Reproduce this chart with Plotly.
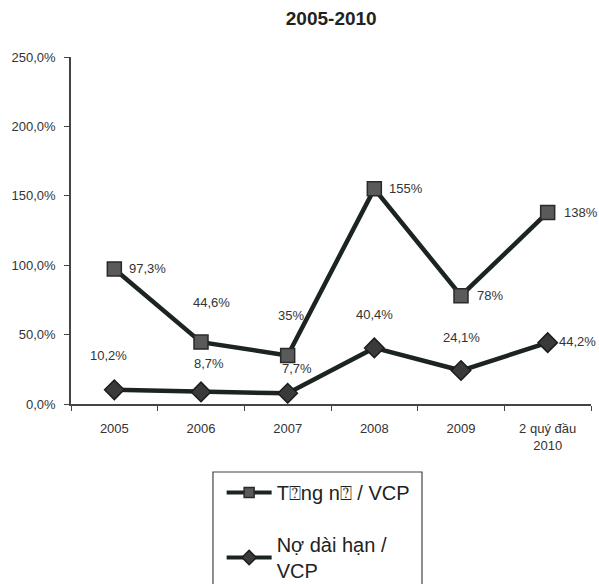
import plotly.graph_objects as go

# Debt ratios per year
years = ["2005", "2006", "2007", "2008", "2009", "2 quý đầu<br>2010"]
total_debt = [97.3, 44.6, 35, 155, 78, 138]          # Tổng nợ / VCP (%)
long_term_debt = [10.2, 8.7, 7.7, 40.4, 24.1, 44.2]   # Nợ dài hạn / VCP (%)
y_ticks = [0, 50, 100, 150, 200, 250]

name_total = "T\u2370ng n\u2370 / VCP"
name_long = "Nợ dài hạn /<br>VCP"

# Label offsets (pixels) relative to each marker: (xshift, yshift, xanchor)
total_label_pos = [(13, 0, "left"), (10, 40, "center"), (3, 40, "center"),
                   (13, 0, "left"), (14, 0, "left"), (14, 0, "left")]
long_label_pos = [(-6, 34, "center"), (8, 28, "center"), (9, 25, "center"),
                  (0, 33, "center"), (0, 33, "center"), (9, 1, "left")]

LINE = "#1c2420"
TEXT = "#333333"
FONT = "Liberation Sans, Arial, sans-serif"

SQUARE = dict(symbol="square", color="#5a5a5a", line=dict(color="#2a2a2a", width=1.5))
DIAMOND = dict(symbol="diamond", color="#3a3a3a", line=dict(color="#1c1c1c", width=1.5))


def fmt(v, digits=None):
    s = f"{v:.{digits}f}" if digits is not None else f"{v:g}"
    return s.replace(".", ",") + "%"


fig = go.Figure()
fig.add_trace(go.Scatter(
    x=years, y=total_debt, name=name_total, showlegend=False,
    mode="lines+markers", line=dict(color=LINE, width=4.5),
    marker=dict(size=14, **SQUARE),
))
fig.add_trace(go.Scatter(
    x=years, y=long_term_debt, name=name_long, showlegend=False,
    mode="lines+markers", line=dict(color=LINE, width=4.5),
    marker=dict(size=15, **DIAMOND),
))

# Legend entries with compact symbols
fig.add_trace(go.Scatter(
    x=[None], y=[None], name=name_total, legendgroup="total",
    mode="lines+markers", line=dict(color=LINE, width=4),
    marker=dict(size=10, **SQUARE),
))
fig.add_trace(go.Scatter(
    x=[None], y=[None], name=name_long, legendgroup="long",
    mode="lines+markers", line=dict(color=LINE, width=4),
    marker=dict(size=11, **DIAMOND),
))

annotations = []
for series, positions in ((total_debt, total_label_pos), (long_term_debt, long_label_pos)):
    for i, (v, (dx, dy, anchor)) in enumerate(zip(series, positions)):
        annotations.append(dict(
            x=i, y=v, xref="x", yref="y", text=fmt(v), showarrow=False,
            xshift=dx, yshift=dy, xanchor=anchor, yanchor="middle",
            font=dict(family=FONT, size=13, color=TEXT),
        ))

fig.update_layout(
    width=599, height=584,
    margin=dict(l=71, r=8, t=57, b=180, autoexpand=False),
    paper_bgcolor="white", plot_bgcolor="white",
    font=dict(family=FONT, color=TEXT, size=12),
    title=dict(text="<b>2005-2010</b>", x=0.553, xanchor="center",
               y=0.969, yanchor="middle",
               font=dict(family=FONT, size=19, color="#222222")),
    xaxis=dict(
        type="category", range=[-0.5, 5.5], showgrid=False, automargin=False,
        showline=True, linecolor="#444444", linewidth=1.5,
        ticks="outside", ticklen=5, tickcolor="#444444", tickson="boundaries",
        ticklabelstandoff=12,
        tickfont=dict(family=FONT, size=13, color=TEXT),
    ),
    yaxis=dict(
        range=[0, 250], tickmode="array", tickvals=y_ticks, automargin=False,
        ticktext=[fmt(t, 1) for t in y_ticks],
        showgrid=False, zeroline=False,
        showline=True, linecolor="#444444", linewidth=1.5,
        ticks="outside", ticklen=5, tickcolor="#444444",
        ticklabelstandoff=6,
        tickfont=dict(family=FONT, size=13, color=TEXT),
    ),
    showlegend=True,
    legend=dict(
        xref="container", yref="container",
        x=0.37, xanchor="left", y=0.19, yanchor="top",
        orientation="v", bgcolor="rgba(0,0,0,0)", borderwidth=0,
        traceorder="grouped", itemwidth=45, tracegroupgap=23,
        font=dict(family=FONT, size=20, color="#222222"),
    ),
    annotations=annotations,
    shapes=[dict(type="rect", xref="paper", yref="paper",
                 x0=0.273, x1=0.675, y0=-0.524, y1=-0.196,
                 line=dict(color="#444444", width=1.2))],
)

fig.write_html("out.html")
